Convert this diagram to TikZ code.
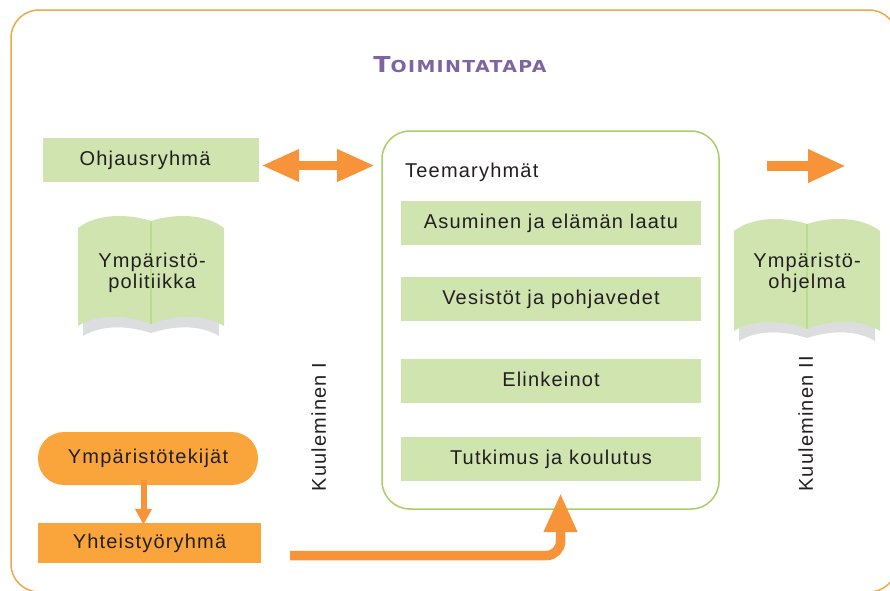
\documentclass[tikz,border=0pt]{standalone}
\usepackage{fontspec}
\setmainfont{Liberation Sans}[LetterSpace=6]
\newfontfamily\titlefont{DejaVu Sans}[LetterSpace=8,FakeStretch=1.15]
\usetikzlibrary{arrows.meta}
\definecolor{boxgreen}{RGB}{208,228,176}
\definecolor{framegreen}{RGB}{165,208,100}
\definecolor{framecol}{RGB}{238,168,75}
\definecolor{orangebox}{RGB}{250,165,60}
\definecolor{arrowor}{RGB}{247,148,58}
\definecolor{titlecol}{RGB}{128,100,162}
\definecolor{pagegray}{RGB}{220,221,222}
\definecolor{spinegreen}{RGB}{188,220,140}
\definecolor{txt}{RGB}{35,31,32}
\begin{document}
\begin{tikzpicture}[x=1pt,y=-1pt,
  every node/.style={text=txt, font=\fontsize{20}{21}\selectfont, inner sep=0pt},
  fixtext/.style={text height=14.5pt, text depth=4pt},
  gbox/.style={fill=boxgreen, fixtext, minimum height=44pt},
  obox/.style={fill=orangebox, fixtext},
  bigarrow/.style={arrowor, line width=9.5pt},
  page/.style={fill=boxgreen},
  pagestack/.style={fill=pagegray},
  spine/.style={spinegreen, line width=1.5pt},
  rottext/.style={fixtext, rotate=90}
]
\useasboundingbox (0,0) rectangle (890,590);
% outer frame
\draw[framecol, line width=1.5pt, rounded corners=28pt] (11,10) rectangle (897,592);
% title
\node[text=titlecol] (title) at (460,65) {\titlefont\bfseries{\fontsize{22}{22}\selectfont T}{\fontsize{16.5}{17}\selectfont OIMINTATAPA}};
% Ohjausryhmä
\node[gbox, minimum width=216pt] (ohj) at (151,160) {Ohjausryhmä\hspace*{12pt}};
% Teemaryhmät frame
\draw[framegreen, line width=1.5pt, rounded corners=28pt] (382,131) rectangle (719,509);
\coordinate (teemw) at (382,165);
\node[fixtext, anchor=west] (teem) at (405,172) {Teemaryhmät};
\node[gbox, minimum width=300pt] (asu) at (551,223) {Asuminen ja elämän laatu};
\node[gbox, minimum width=300pt] (ves) at (551,299) {Vesistöt ja pohjavedet};
\node[gbox, minimum width=300pt] (elin) at (551,381) {Elinkeinot};
\node[gbox, minimum width=300pt] (tutk) at (551,459) {Tutkimus ja koulutus};
% double arrow
\draw[bigarrow, {Triangle[length=38pt,width=30pt]}-{Triangle[length=38pt,width=30pt]}]
  ([xshift=2pt]ohj.east |- 0,165.5) -- ([xshift=-7pt]teemw |- 0,165.5);
% right arrow
\coordinate (ra1) at (767,166);
\coordinate (ra2) at (846,166);
\draw[bigarrow, -{Triangle[length=38pt,width=31pt]}] (ra1) -- (ra2);
% books
\begin{scope}[shift={(151,217)}]
  \fill[pagestack] (-68,60) -- (-68,119) .. controls (-50,108) and (-25,108) .. (0,116)
     .. controls (25,108) and (50,108) .. (68,119) -- (68,60) -- cycle;
  \fill[page] (-73,11) .. controls (-55,-3) and (-25,-4) .. (0,4)
     .. controls (25,-4) and (55,-3) .. (73,11) -- (73,109)
     .. controls (55,97) and (25,97) .. (0,107)
     .. controls (-25,97) and (-55,97) .. (-73,109) -- cycle;
  \draw[spine] (0,4) -- (0,107);
\end{scope}
\node[align=center] (bookl) at (152,273) {Ympäristö-\\politiikka};
\begin{scope}[shift={(807,220)}]
  \fill[pagestack] (-68,60) -- (-68,121) .. controls (-50,110) and (-25,110) .. (0,118)
     .. controls (25,110) and (50,110) .. (68,121) -- (68,60) -- cycle;
  \fill[page] (-73,11) .. controls (-55,-3) and (-25,-4) .. (0,4)
     .. controls (25,-4) and (55,-3) .. (73,11) -- (73,111)
     .. controls (55,99) and (25,99) .. (0,109)
     .. controls (-25,99) and (-55,99) .. (-73,111) -- cycle;
  \draw[spine] (0,4) -- (0,109);
\end{scope}
\node[align=center] (bookr) at (807,273) {Ympäristö-\\ohjelma};
% Kuuleminen
\node[rottext] (kuul1) at (320.5,427) {Kuuleminen I};
\node[rottext] (kuul2) at (807.5,424) {Kuuleminen II};
% orange boxes
\node[obox, minimum width=220pt, minimum height=53pt, rounded corners=26pt] (ymp) at (148,458.5) {Ympäristötekijät};
\node[obox, minimum width=223pt, minimum height=40pt] (yht) at (149.5,543) {Yhteistyöryhmä};
% small down arrow
\draw[arrowor, line width=6pt, -{Triangle[length=16pt,width=16pt]}] ([yshift=5pt]ymp.south -| 143.5,0) -- ([yshift=-2pt]yht.north -| 143.5,0);
% bottom arrow
\coordinate (bstart) at (290,555.5);
\coordinate (bend) at (560.5,493);
\draw[bigarrow, rounded corners=14pt, -{Triangle[length=39pt,width=31pt]}] (bstart) -| (bend);
\end{tikzpicture}
\end{document}
